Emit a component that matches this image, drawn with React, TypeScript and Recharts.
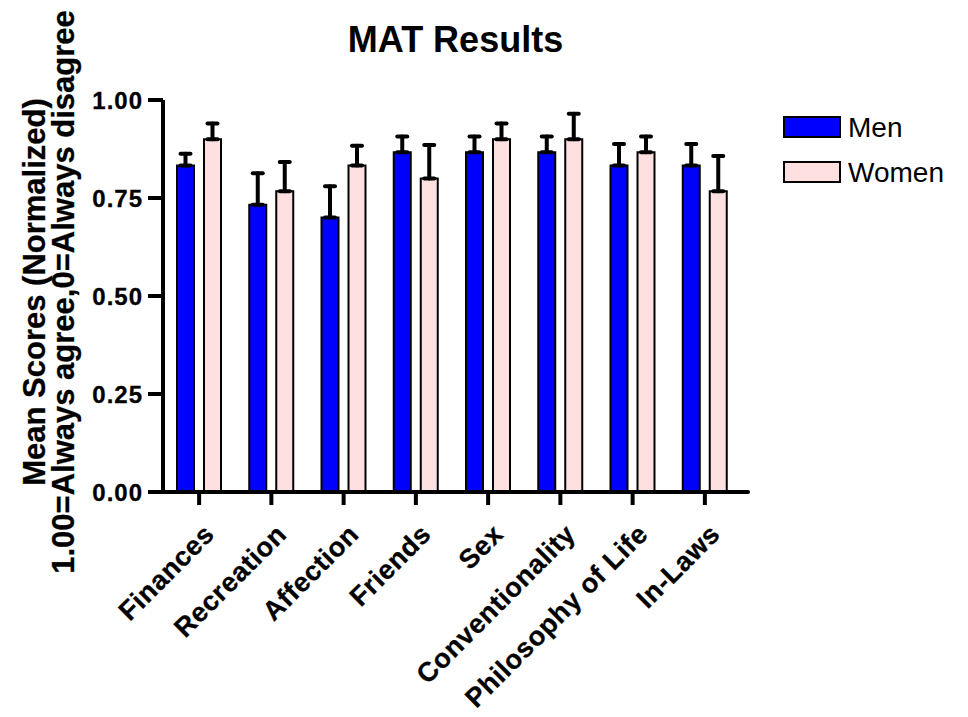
import React from 'react';
import { BarChart, Bar, XAxis, YAxis, ErrorBar, Legend } from 'recharts';

const categories = ['Finances', 'Recreation', 'Affection', 'Friends', 'Sex', 'Conventionality', 'Philosophy of Life', 'In-Laws'];
const menMeans = [0.833, 0.733, 0.700, 0.867, 0.867, 0.867, 0.833, 0.833];
const menErrors = [0.030, 0.080, 0.080, 0.040, 0.040, 0.040, 0.055, 0.055];
const womenMeans = [0.900, 0.767, 0.833, 0.800, 0.900, 0.900, 0.867, 0.767];
const womenErrors = [0.040, 0.075, 0.050, 0.085, 0.040, 0.065, 0.040, 0.090];
const yTicks = [0, 0.25, 0.5, 0.75, 1];
const seriesNames = ['Men', 'Women'];
const seriesColors = ['#0000FF', '#FFE0E0'];
const titleText = 'MAT Results';
const yLabelLines = ['Mean Scores (Normalized)', '1.00=Always agree,0=Always disagree'];

const FONT = "'Liberation Sans', Arial, Helvetica, sans-serif";

const data = categories.map((c, i) => ({
  category: c,
  Men: menMeans[i],
  menErr: [0, menErrors[i]],
  Women: womenMeans[i],
  womenErr: [0, womenErrors[i]],
}));

const XTick = (props: any) => {
  const { x, y, payload } = props;
  const px = x;
  const py = y + 12;
  return (
    <text
      x={px}
      y={py}
      dy="0.88em"
      transform={`rotate(-45, ${px}, ${py})`}
      textAnchor="end"
      fontFamily={FONT}
      fontWeight="bold"
      fontSize={27}
      letterSpacing={0.6}
      stroke="#000"
      strokeWidth={0.3}
      fill="#000"
    >
      {payload.value}
    </text>
  );
};

const YTick = (props: any) => {
  const { x, y, payload } = props;
  return (
    <text
      x={x}
      y={y}
      dy="0.36em"
      textAnchor="end"
      fontFamily={FONT}
      fontWeight="bold"
      fontSize={24}
      letterSpacing={1}
      stroke="#000"
      strokeWidth={0.3}
      fill="#000"
    >
      {Number(payload.value).toFixed(2)}
    </text>
  );
};

const YLabel = (props: any) => {
  const vb = props.viewBox || { x: 0, y: 100, width: 163, height: 392 };
  const cy = vb.y + vb.height / 2 - 4;
  const x1 = 34;
  const x2 = 63;
  return (
    <g>
      {yLabelLines.map((line, i) => {
        const xx = i === 0 ? x1 : x2;
        return (
          <text
            key={line}
            x={xx}
            y={cy}
            transform={`rotate(-90, ${xx}, ${cy})`}
            textAnchor="middle"
            dominantBaseline="central"
            fontFamily={FONT}
            fontWeight="bold"
            fontSize={31}
            stroke="#000"
            strokeWidth={0.3}
            fill="#000"
          >
            {line}
          </text>
        );
      })}
    </g>
  );
};

const renderLegend = (props: any) => {
  const { payload } = props;
  return (
    <div style={{ display: 'flex', flexDirection: 'column' }}>
      {(payload || []).map((entry: any) => {
        const idx = seriesNames.indexOf(entry.value);
        return (
          <div key={entry.value} style={{ display: 'flex', alignItems: 'center', height: 45 }}>
            <svg width={58} height={23} style={{ display: 'block' }}>
              <rect x={1} y={1} width={56} height={20} fill={seriesColors[idx]} stroke="#000" strokeWidth={2} />
            </svg>
            <span style={{ marginLeft: 7, fontSize: 28, fontFamily: FONT, color: '#000', lineHeight: '28px' }}>
              {entry.value}
            </span>
          </div>
        );
      })}
    </div>
  );
};

export default function App() {
  return (
    <div style={{ position: 'absolute', left: 0, top: 0, width: 968, height: 717, background: '#fff' }}>
      <div
        style={{
          position: 'absolute',
          left: 163,
          width: 585,
          top: 20,
          textAlign: 'center',
          fontFamily: FONT,
          fontWeight: 'bold',
          fontSize: 36,
          lineHeight: '40px',
          color: '#000',
        }}
      >
        {titleText}
      </div>
      <BarChart
        width={968}
        height={717}
        data={data}
        margin={{ top: 100, right: 40, bottom: 0, left: 0 }}
        barSize={17}
        barGap={10}
      >
        <XAxis
          dataKey="category"
          interval={0}
          tickSize={13}
          tickMargin={2}
          padding={{ left: 0, right: 7 }}
          axisLine={{ stroke: '#000', strokeWidth: 4, strokeLinecap: 'round' }}
          tickLine={{ stroke: '#000', strokeWidth: 4 }}
          tick={<XTick />}
          height={225}
        />
        <YAxis
          type="number"
          domain={[0, 1]}
          ticks={yTicks}
          width={163}
          tickSize={15}
          tickMargin={5}
          axisLine={{ stroke: '#000', strokeWidth: 4 }}
          tickLine={{ stroke: '#000', strokeWidth: 4 }}
          tick={<YTick />}
          label={{ content: (p: any) => <YLabel {...p} /> }}
        />
        <Legend
          layout="vertical"
          verticalAlign="top"
          align="right"
          content={renderLegend}
          wrapperStyle={{ left: 783, top: 105, width: 180 }}
        />
        <Bar dataKey="Men" name={seriesNames[0]} fill={seriesColors[0]} stroke="#000" strokeWidth={2} isAnimationActive={false}>
          <ErrorBar dataKey="menErr" width={5} stroke="#000" strokeWidth={4} strokeLinecap="round" direction="y" isAnimationActive={false} />
        </Bar>
        <Bar dataKey="Women" name={seriesNames[1]} fill={seriesColors[1]} stroke="#000" strokeWidth={2} isAnimationActive={false}>
          <ErrorBar dataKey="womenErr" width={5} stroke="#000" strokeWidth={4} strokeLinecap="round" direction="y" isAnimationActive={false} />
        </Bar>
      </BarChart>
    </div>
  );
}
